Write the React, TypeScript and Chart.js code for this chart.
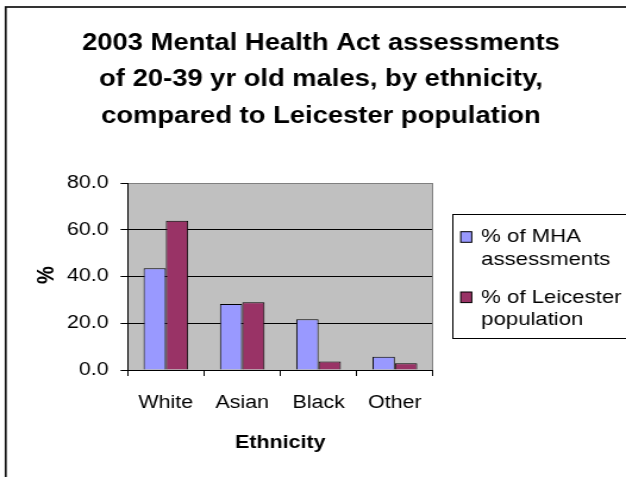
import { useEffect, useRef } from 'react';
import { Chart, registerables } from 'chart.js';

Chart.register(...registerables);

// ---- data ----
const categories = ['White', 'Asian', 'Black', 'Other'];
const mhaAssessments = [43.5, 28.2, 21.7, 5.7];
const leicesterPopulation = [63.8, 29.0, 3.6, 2.9];
const seriesNames = ['% of MHA assessments', '% of Leicester population'];
const legendLines = [['% of MHA', 'assessments'], ['% of Leicester', 'population']];
const yTickLabels = ['0.0', '20.0', '40.0', '60.0', '80.0'];
const titleLines = [
  '2003 Mental Health Act assessments',
  'of 20-39 yr old males, by ethnicity,',
  'compared to Leicester population',
];
const xAxisTitle = 'Ethnicity';
const yAxisTitle = '%';

// ---- layout ----
const OUT_W = 626;
const OUT_H = 477;
const SX = 1.19; // horizontal stretch of the reference
const W = Math.round(OUT_W / SX);
const H = OUT_H;
const FONT = "'Liberation Sans', Arial, Helvetica, sans-serif";
const PLOT_LEFT = 127.7 / SX;
const PLOT_RIGHT = 433 / SX;
const PLOT_TOP = 183;
const PLOT_BOTTOM = 370;

const decor = {
  id: 'decor',
  beforeDraw(chart: any) {
    const { ctx, chartArea: a } = chart;
    ctx.save();
    ctx.fillStyle = '#ffffff';
    ctx.fillRect(0, 0, chart.width, chart.height);
    ctx.fillStyle = '#C0C0C0';
    ctx.fillRect(a.left, a.top, a.right - a.left, a.bottom - a.top);
    ctx.restore();
  },
  afterDraw(chart: any) {
    const { ctx, chartArea: a } = chart;
    ctx.save();
    // right grey border of plot area
    ctx.strokeStyle = '#808080';
    ctx.lineWidth = 1;
    ctx.beginPath();
    ctx.moveTo(Math.round(a.right) - 0.5, a.top);
    ctx.lineTo(Math.round(a.right) - 0.5, a.bottom);
    ctx.stroke();

    // outer chart border
    ctx.strokeStyle = '#111';
    ctx.lineWidth = 1.7;
    ctx.strokeRect(4.8, 7, 700, 700);

    // title
    ctx.fillStyle = '#000';
    ctx.textAlign = 'center';
    ctx.textBaseline = 'alphabetic';
    ctx.font = `bold 23px ${FONT}`;
    const baselines = [50, 86.3, 122.6];
    titleLines.forEach((t, i) => ctx.fillText(t, 269.7, baselines[i]));

    // x axis title
    ctx.font = `bold 18px ${FONT}`;
    ctx.fillText(xAxisTitle, (a.left + a.right) / 2, 447.5);

    // y axis title
    ctx.save();
    ctx.translate(39.5, 275);
    ctx.rotate(-Math.PI / 2);
    ctx.textBaseline = 'middle';
    ctx.font = `bold 20px ${FONT}`;
    ctx.fillText(yAxisTitle, 0, 0);
    ctx.restore();

    // legend
    const lx = 452.3 / SX;
    ctx.strokeStyle = '#000';
    ctx.lineWidth = 1;
    ctx.strokeRect(Math.round(lx) + 0.5, 214.5, 400, 124);
    const colors = chart.data.datasets.map((d: any) => d.backgroundColor);
    const swY = [231.7, 292];
    const textBase = [[241.5, 264.5], [302.5, 325]];
    ctx.font = `18.6px ${FONT}`;
    ctx.textAlign = 'left';
    ctx.textBaseline = 'alphabetic';
    legendLines.forEach((lines, i) => {
      ctx.fillStyle = colors[i];
      const sx = 460.7 / SX;
      const sw = 11 / SX;
      ctx.fillRect(sx, swY[i], sw, 10.6);
      ctx.strokeStyle = '#000';
      ctx.lineWidth = 1;
      ctx.strokeRect(sx, swY[i], sw, 10.6);
      ctx.fillStyle = '#000';
      lines.forEach((ln, j) => ctx.fillText(ln, 481.2 / SX, textBase[i][j]));
    });
    ctx.restore();
  },
};

export default function App() {
  const ref = useRef<HTMLCanvasElement | null>(null);
  useEffect(() => {
    if (!ref.current) return;
    const chart = new Chart(ref.current, {
      type: 'bar',
      data: {
        labels: categories,
        datasets: [
          {
            label: seriesNames[0],
            data: mhaAssessments,
            backgroundColor: '#9999FF',
            borderColor: '#000000',
            borderWidth: 1,
            categoryPercentage: 0.585,
            barPercentage: 1,
          },
          {
            label: seriesNames[1],
            data: leicesterPopulation,
            backgroundColor: '#993366',
            borderColor: '#000000',
            borderWidth: 1,
            categoryPercentage: 0.585,
            barPercentage: 1,
          },
        ],
      },
      options: {
        responsive: false,
        devicePixelRatio: 1,
        animation: false,
        layout: {
          padding: { left: 0, top: PLOT_TOP, right: W - PLOT_RIGHT, bottom: 0 },
        },
        plugins: {
          legend: { display: false },
          title: { display: false },
          tooltip: { enabled: false },
        },
        scales: {
          x: {
            afterFit: (s: any) => {
              s.height = H - PLOT_BOTTOM;
            },
            grid: {
              display: true,
              offset: true,
              drawOnChartArea: false,
              drawTicks: true,
              tickLength: 6,
              color: '#000',
            },
            border: { display: true, color: '#000', width: 1 },
            ticks: {
              color: '#000',
              font: { size: 18, family: FONT },
              padding: 16,
              maxRotation: 0,
            },
          },
          y: {
            min: 0,
            max: 80,
            afterFit: (s: any) => {
              s.width = PLOT_LEFT;
            },
            afterBuildTicks: (s: any) => {
              s.ticks = yTickLabels.map((_, i) => ({ value: i * 20 }));
            },
            grid: {
              color: (c: any) => (c.tick && c.tick.value === 80 ? '#808080' : '#000'),
              tickColor: '#000',
              tickLength: 6,
              lineWidth: 1,
            },
            border: { display: true, color: '#000', width: 1 },
            ticks: {
              color: '#000',
              font: { size: 18, family: FONT },
              padding: 10,
              callback: (_v: any, i: number) => yTickLabels[i],
            },
          },
        },
      },
      plugins: [decor],
    });
    return () => chart.destroy();
  }, []);
  return (
    <canvas
      ref={ref}
      width={W}
      height={H}
      style={{ position: 'fixed', left: 0, top: 0, width: OUT_W + 'px', height: OUT_H + 'px' }}
    />
  );
}
